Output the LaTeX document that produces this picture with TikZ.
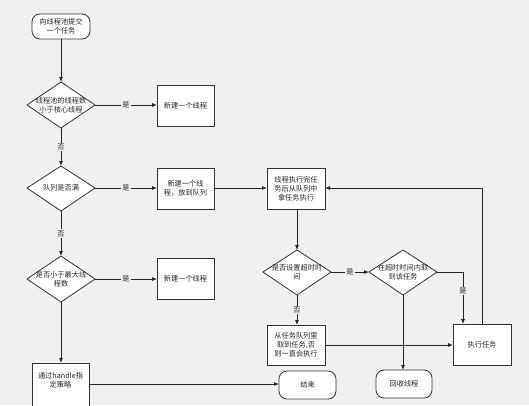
\documentclass[tikz,border=0pt]{standalone}
\usepackage{fontspec}
\setmainfont{Noto Sans CJK SC}
\usetikzlibrary{shapes.geometric,arrows.meta}
\begin{document}
\begin{tikzpicture}[x=1pt,y=-1pt,
  every node/.style={font=\fontsize{7.2}{9}\selectfont, text=black!85, align=center, inner sep=0pt},
  box/.style={draw=black!80, fill=white, line width=0.8pt},
  rbox/.style={draw=black!80, fill=white, line width=0.8pt, rounded corners=8pt},
  dia/.style={draw=black!80, fill=white, line width=0.8pt},
  arr/.style={draw=black!85, line width=0.8pt, -{Latex[length=5pt,width=4pt]}},
  ln/.style={draw=black!85, line width=0.8pt},
  lab/.style={fill=black!6, inner sep=1pt}]
\fill[black!6] (0,0) rectangle (529,405);
\useasboundingbox (0,0) rectangle (529,405);
% start
\draw[rbox] (32,14) rectangle (90,39);
\node (start) at (61,26.5) {向线程池提交\\一个任务};
\coordinate (startS) at (61,39);
% diamond 1
\draw[dia] (27,105) -- (61,82) -- (95,105) -- (61,128) -- cycle;
\node (d1) at (61,105) {线程池的线程数\\小于核心线程};
\coordinate (d1N) at (61,82); \coordinate (d1E) at (95,105); \coordinate (d1S) at (61,128);
\draw[box] (157,85) rectangle (214,126);
\node (b1) at (185.5,105.5) {新建一个线程};
\coordinate (b1W) at (157,105);
% diamond 2
\draw[dia] (27,188) -- (61,166) -- (95,188) -- (61,211) -- cycle;
\node (d2) at (61,188) {队列是否满};
\coordinate (d2N) at (61,166); \coordinate (d2E) at (95,188); \coordinate (d2S) at (61,211);
\draw[box] (157,168) rectangle (214,209);
\node (b2) at (185.5,188.5) {新建一个线\\程，放到队列};
\coordinate (b2W) at (157,188); \coordinate (b2E) at (214,188);
% diamond 3
\draw[dia] (27,279) -- (61,256) -- (95,279) -- (61,302) -- cycle;
\node (d3) at (61,279) {是否小于最大线\\程数};
\coordinate (d3N) at (61,256); \coordinate (d3E) at (95,279); \coordinate (d3S) at (61,302);
\draw[box] (157,258) rectangle (214,299);
\node (b3) at (185.5,278.5) {新建一个线程};
\coordinate (b3W) at (157,279);
% handle box
\draw[box] (32,363) rectangle (89,410);
\node (hb) at (60.5,380) {通过handle指\\定策略};
\coordinate (hbN) at (61,363); \coordinate (hbE) at (89,384);
% end
\draw[rbox] (279,371) rectangle (336,399);
\node (end) at (307.5,385) {结束};
\coordinate (endW) at (279,384);
% box thread finished
\draw[box] (267,168) rectangle (325,209);
\node (tb) at (296,188.5) {线程执行完任\\务后从队列中\\拿任务执行};
\coordinate (tbW) at (267,188); \coordinate (tbE) at (325,188); \coordinate (tbS) at (297,209);
% diamond 4
\draw[dia] (263,272) -- (297,250) -- (331,272) -- (297,295) -- cycle;
\node (d4) at (297,272) {是否设置超时时\\间};
\coordinate (d4N) at (297,250); \coordinate (d4E) at (331,272); \coordinate (d4S) at (297,295);
% diamond 5
\draw[dia] (369,272) -- (403,250) -- (437,272) -- (403,295) -- cycle;
\node (d5) at (403,272) {在超时时间内取\\到该任务};
\coordinate (d5W) at (369,272); \coordinate (d5E) at (437,272); \coordinate (d5S) at (403,295);
% box from queue
\draw[box] (267,325) rectangle (325,365);
\node (qb) at (296,345) {从任务队列里\\取到任务,否\\则一直会执行};
\coordinate (qbN) at (297,325); \coordinate (qbE) at (325,345);
% execute
\draw[box] (453,324) rectangle (511,365);
\node (ex) at (482,344.5) {执行任务};
\coordinate (exW) at (453,345); \coordinate (exN1) at (463,324); \coordinate (exN2) at (482,324);
% recycle
\draw[rbox] (376,370) rectangle (432,398);
\node (rc) at (404,384) {回收线程};
\coordinate (rcN) at (403,370);
% connectors
\draw[arr] (startS) -- (d1N);
\draw[arr] (d1E) -- node[lab] {是} (b1W);
\draw[arr] (d1S) -- node[lab,pos=0.5] {否} (d2N);
\draw[arr] (d2E) -- node[lab] {是} (b2W);
\draw[arr] (d2S) -- node[lab,pos=0.5] {否} (d3N);
\draw[arr] (d3E) -- node[lab] {是} (b3W);
\draw[arr] (d3S) -- (hbN);
\draw[arr] (hbE) -- (endW);
\draw[arr] (b2E) -- (tbW);
\draw[arr] (tbS) -- (d4N);
\draw[arr] (d4E) -- node[lab] {是} (d5W);
\draw[arr] (d4S) -- node[lab] {否} (qbN);
\draw[arr] (d5E) -| node[lab,pos=0.68] {是} (exN1);
\draw[arr] (d5S) -- (rcN);
\draw[arr] (qbE) -- (exW);
\draw[arr] (exN2) |- (tbE);
\end{tikzpicture}
\end{document}
